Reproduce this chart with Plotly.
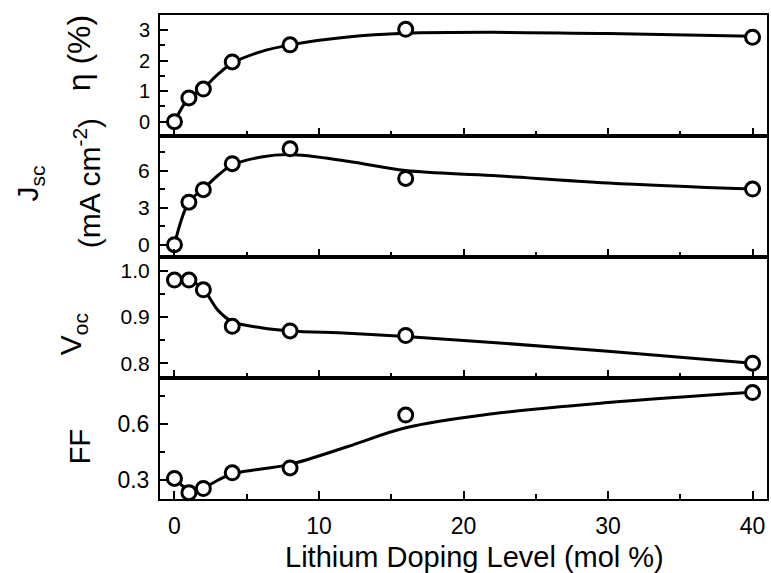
import plotly.graph_objects as go
from plotly.subplots import make_subplots

# ---- data ----
doping = [0, 1, 2, 4, 8, 16, 40]
eta = [0.0, 0.78, 1.07, 1.96, 2.52, 3.03, 2.77]
jsc = [0.0, 3.44, 4.45, 6.56, 7.76, 5.36, 4.5]
voc = [0.98, 0.98, 0.959, 0.88, 0.87, 0.86, 0.80]
ff = [0.31, 0.234, 0.256, 0.34, 0.366, 0.648, 0.768]

# fitted guide curves
fit_x = [0, 1, 2, 3, 4, 6, 8, 12, 16, 22, 30, 40]
fit_eta = [0.0, 0.78, 1.1, 1.55, 1.92, 2.3, 2.52, 2.78, 2.9, 2.93, 2.89, 2.8]
fit_jsc = [0.0, 3.44, 4.5, 5.6, 6.45, 7.1, 7.3, 6.75, 6.0, 5.6, 5.0, 4.5]
fit_voc = [0.98, 0.98, 0.96, 0.915, 0.89, 0.877, 0.87, 0.865, 0.858, 0.845, 0.826, 0.80]
fit_ff = [0.31, 0.25, 0.26, 0.3, 0.335, 0.36, 0.385, 0.48, 0.58, 0.655, 0.715, 0.77]

y_labels = ["η (%)", "J<sub>sc</sub>", "(mA cm<sup>-2</sup>)", "V<sub>oc</sub>", "FF"]
x_title = "Lithium Doping Level (mol %)"

FONT = "Liberation Sans, Arial, sans-serif"
W, H = 771, 573
L, R, T, B = 160, 769, 15, 499

fig = make_subplots(rows=4, cols=1, shared_xaxes=True, vertical_spacing=0)

series = [(eta, fit_eta), (jsc, fit_jsc), (voc, fit_voc), (ff, fit_ff)]
for i, (vals, fit) in enumerate(series, start=1):
    fig.add_trace(go.Scatter(x=fit_x, y=fit, mode="lines",
                             line=dict(color="black", width=3, shape="spline", smoothing=1.0),
                             showlegend=False, hoverinfo="skip"), row=i, col=1)
    fig.add_trace(go.Scatter(x=doping, y=vals, mode="markers",
                             marker=dict(size=14, color="white", symbol="circle",
                                         line=dict(color="black", width=3)),
                             showlegend=False, cliponaxis=False), row=i, col=1)

axis_common = dict(showline=True, linecolor="black", linewidth=2, mirror=True,
                   ticks="inside", tickcolor="black", tickwidth=1.8, ticklen=8,
                   showgrid=False, zeroline=False)

for i in range(1, 5):
    fig.update_xaxes(range=[-1, 41], dtick=10, tick0=0,
                     minor=dict(dtick=5, ticklen=5, tickcolor="black", ticks="inside", tickwidth=1.5),
                     showticklabels=(i == 4), ticklabelstandoff=5,
                     tickfont=dict(family=FONT, size=23, color="black"),
                     row=i, col=1, **axis_common)

yset = [
    dict(range=[-0.47, 3.5], dtick=1, tick0=0, minor=dict(dtick=0.5), fs=20),
    dict(range=[-1.0, 8.8], dtick=3, tick0=0, minor=dict(dtick=1.5), fs=21),
    dict(range=[0.768, 1.03], dtick=0.1, tick0=0, tickformat=".1f", minor=dict(dtick=0.05), fs=21),
    dict(range=[0.2, 0.846], dtick=0.3, tick0=0, tickformat=".1f", minor=dict(dtick=0.15), fs=23),
]
for i, ys in enumerate(yset, start=1):
    mn = ys.pop("minor")
    fs = ys.pop("fs")
    mn.update(ticklen=5, tickcolor="black", ticks="inside", tickwidth=1.5)
    fig.update_yaxes(row=i, col=1, minor=mn, ticklabelstandoff=4,
                     tickfont=dict(family=FONT, size=fs, color="black"),
                     **ys, **axis_common)

def px2x(px):
    return (px - L) / (R - L)

def py2y(py):
    return (B - py) / (B - T)

label_pos = [(79, 53, 32), (30, 183, 30), (87, 183, 30), (72, 334, 30), (80, 447, 29)]
for text, (px, py, fs) in zip(y_labels, label_pos):
    fig.add_annotation(text=text, x=px2x(px), y=py2y(py), xref="paper", yref="paper",
                       xanchor="center", yanchor="middle", textangle=-90, showarrow=False,
                       font=dict(family=FONT, size=fs, color="black"))

fig.add_annotation(text=x_title, x=px2x(476), y=py2y(557), xref="paper", yref="paper",
                   xanchor="center", yanchor="middle", showarrow=False,
                   font=dict(family=FONT, size=29, color="black"))

fig.update_layout(width=W, height=H, margin=dict(l=L, r=W - R, t=T, b=H - B),
                  paper_bgcolor="white", plot_bgcolor="white",
                  font=dict(family=FONT, color="black"))

fig.write_html("out.html")
